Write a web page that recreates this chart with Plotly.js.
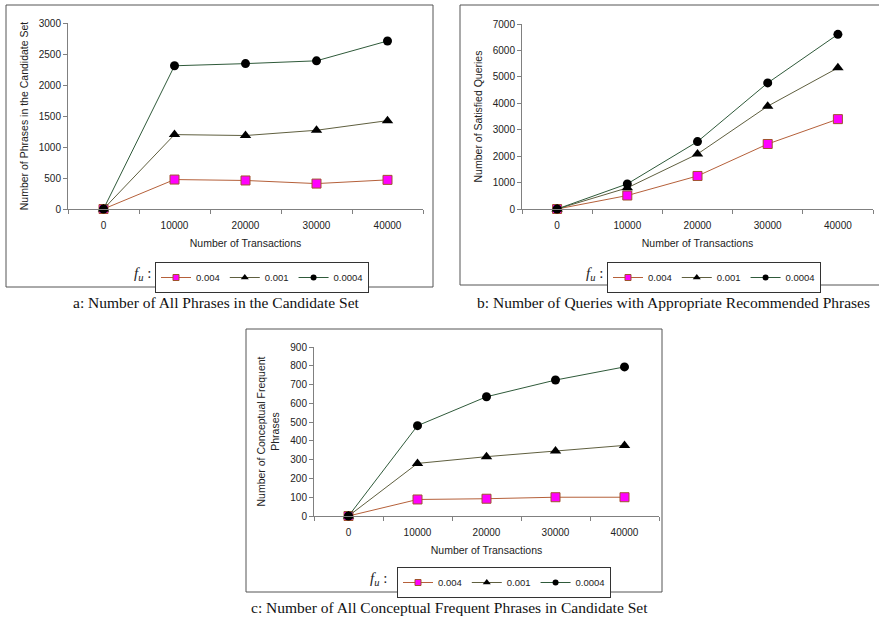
<!DOCTYPE html>
<html>
<head>
<meta charset="utf-8">
<script src="https://cdn.plot.ly/plotly-3.0.1.min.js"></script>
<style>html,body{margin:0;padding:0;background:#fff;}#chart{width:879px;height:618px;}</style>
</head>
<body>
<div id="chart"></div>
<script>
// Categories (x axis)
const transactions = ['0', '10000', '20000', '30000', '40000'];
const seriesNames = ['0.004', '0.001', '0.0004'];

// Panel a: Number of Phrases in the Candidate Set
const a_0004 = [0, 475, 460, 410, 470];
const a_001 = [0, 1200, 1185, 1270, 1425];
const a_00004 = [0, 2310, 2345, 2390, 2710];

// Panel b: Number of Satisfied Queries
const b_0004 = [0, 510, 1250, 2460, 3400];
const b_001 = [0, 800, 2080, 3890, 5340];
const b_00004 = [0, 950, 2550, 4770, 6610];

// Panel c: Number of Conceptual Frequent Phrases
const c_0004 = [0, 88, 92, 100, 100];
const c_001 = [0, 280, 316, 346, 376];
const c_00004 = [0, 481, 635, 724, 794];

const lineColors = ['#b5603a', '#5f5f3f', '#2f5a3a'];
const symbols = ['square', 'triangle-up', 'circle'];
const fills = ['#ff00ff', '#000000', '#000000'];
const outlines = ['#a0522d', '#000000', '#000000'];
const sizes = [9, 10, 9];
const legSizes = [6, 7, 6];

function mk(y, i, xa, ya) {
  return {
    x: transactions, y: y, type: 'scatter', mode: 'lines+markers',
    name: seriesNames[i], xaxis: xa, yaxis: ya, showlegend: false,
    line: {color: lineColors[i], width: 1},
    marker: {symbol: symbols[i], color: fills[i], size: sizes[i], line: {color: outlines[i], width: i === 0 ? 1 : 0}},
    cliponaxis: false
  };
}
// legend entries (no drawn data, smaller symbols as in the reference legend)
function lg(i, xa, ya, leg) {
  return {
    x: [null], y: [null], type: 'scatter', mode: 'lines+markers',
    name: seriesNames[i], xaxis: xa, yaxis: ya, legend: leg, showlegend: true,
    line: {color: lineColors[i], width: 1},
    marker: {symbol: symbols[i], color: fills[i], size: legSizes[i], line: {color: outlines[i], width: i === 0 ? 1 : 0}}
  };
}

const data = [
  mk(a_0004, 0, 'x', 'y'), mk(a_001, 1, 'x', 'y'), mk(a_00004, 2, 'x', 'y'),
  mk(b_0004, 0, 'x2', 'y2'), mk(b_001, 1, 'x2', 'y2'), mk(b_00004, 2, 'x2', 'y2'),
  mk(c_0004, 0, 'x3', 'y3'), mk(c_001, 1, 'x3', 'y3'), mk(c_00004, 2, 'x3', 'y3'),
  lg(0, 'x', 'y', 'legend'), lg(1, 'x', 'y', 'legend'), lg(2, 'x', 'y', 'legend'),
  lg(0, 'x2', 'y2', 'legend2'), lg(1, 'x2', 'y2', 'legend2'), lg(2, 'x2', 'y2', 'legend2'),
  lg(0, 'x3', 'y3', 'legend3'), lg(1, 'x3', 'y3', 'legend3'), lg(2, 'x3', 'y3', 'legend3')
];

const W = 879, H = 618;
const px = v => v / W;
const py = v => (H - v) / H;

const tickFont = {family: 'Liberation Sans, Arial, sans-serif', size: 10, color: '#222'};
const titleFont = {family: 'Liberation Sans, Arial, sans-serif', size: 10.5, color: '#222'};

function xax(d0, d1, anchor) {
  return {
    domain: [d0, d1], anchor: anchor, type: 'category', categoryarray: transactions,
    range: [-0.5, 4.5], showgrid: false, zeroline: false, showline: true,
    linecolor: '#808080', linewidth: 1, ticks: 'outside', tickson: 'boundaries',
    ticklen: 4, tickcolor: '#808080', tickfont: tickFont, ticklabelstandoff: 7,
    title: {text: 'Number of Transactions', font: titleFont, standoff: 9}
  };
}
function yax(d0, d1, anchor, maxv, dt, title, standoff) {
  return {
    domain: [d0, d1], anchor: anchor, range: [0, maxv], dtick: dt, tick0: 0,
    showgrid: false, zeroline: false, showline: true, linecolor: '#808080', linewidth: 1,
    ticks: 'outside', ticklen: 4, tickcolor: '#808080', tickfont: tickFont,
    title: {text: title, font: titleFont, standoff: standoff}
  };
}

function leg(x, y) {
  return {
    orientation: 'h', x: x, y: y, xanchor: 'left', yanchor: 'top',
    bgcolor: '#fff', bordercolor: '#333', borderwidth: 1,
    font: {family: 'Liberation Sans, Arial, sans-serif', size: 9.5, color: '#222'},
    itemwidth: 30, traceorder: 'normal'
  };
}

const fu = '<i>f</i><sub><i>u</i></sub> :';
const fuFont = {family: 'Liberation Serif, Times New Roman, serif', size: 15, color: '#222'};
const capFont = {family: 'Liberation Serif, Times New Roman, serif', size: 15.5, color: '#111'};

const layout = {
  width: W, height: H, margin: {l: 0, r: 0, t: 0, b: 0, autoexpand: false},
  paper_bgcolor: '#fff', plot_bgcolor: 'rgba(0,0,0,0)',
  showlegend: true,
  xaxis: xax(px(68), px(423), 'y'),
  yaxis: yax(py(209), py(23), 'x', 3000, 500, 'Number of Phrases in the Candidate Set', 8),
  xaxis2: xax(px(522), px(873), 'y2'),
  yaxis2: yax(py(209), py(24), 'x2', 7000, 1000, 'Number of Satisfied Queries', 8),
  xaxis3: xax(px(314), px(659), 'y3'),
  yaxis3: yax(py(516), py(347), 'x3', 900, 100, 'Number of Conceptual Frequent<br>Phrases', 8),
  legend: leg(px(155), py(262)),
  legend2: leg(px(607), py(262)),
  legend3: leg(px(397), py(567)),
  shapes: [
    {type: 'rect', xref: 'paper', yref: 'paper', x0: px(6), x1: px(433), y0: py(5), y1: py(287), line: {color: '#555', width: 1}},
    {type: 'rect', xref: 'paper', yref: 'paper', x0: px(460), x1: px(885), y0: py(5), y1: py(285), line: {color: '#555', width: 1}},
    {type: 'rect', xref: 'paper', yref: 'paper', x0: px(246), x1: px(662), y0: py(329), y1: py(592), line: {color: '#555', width: 1}}
  ],
  annotations: [
    {text: fu, xref: 'paper', yref: 'paper', x: px(153), y: py(274), xanchor: 'right', yanchor: 'middle', showarrow: false, font: fuFont},
    {text: fu, xref: 'paper', yref: 'paper', x: px(605), y: py(274), xanchor: 'right', yanchor: 'middle', showarrow: false, font: fuFont},
    {text: fu, xref: 'paper', yref: 'paper', x: px(389), y: py(579), xanchor: 'right', yanchor: 'middle', showarrow: false, font: fuFont},
    {text: 'a: Number of All Phrases in the Candidate Set', xref: 'paper', yref: 'paper', x: px(216), y: py(302), xanchor: 'center', yanchor: 'middle', showarrow: false, font: capFont},
    {text: 'b: Number of Queries with Appropriate Recommended Phrases', xref: 'paper', yref: 'paper', x: px(673), y: py(302), xanchor: 'center', yanchor: 'middle', showarrow: false, font: capFont},
    {text: 'c: Number of All Conceptual Frequent Phrases in Candidate Set', xref: 'paper', yref: 'paper', x: px(449), y: py(607), xanchor: 'center', yanchor: 'middle', showarrow: false, font: capFont}
  ]
};

Plotly.newPlot('chart', data, layout, {displayModeBar: false, staticPlot: true});
</script>
</body>
</html>
